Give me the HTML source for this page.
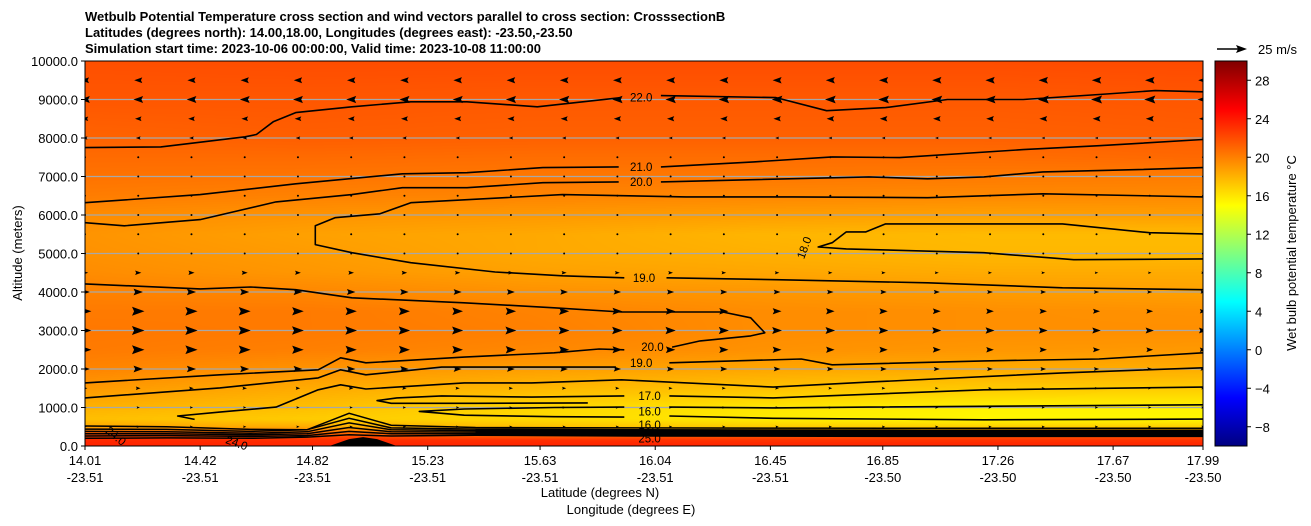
<!DOCTYPE html>
<html><head><meta charset="utf-8">
<style>
html,body{margin:0;padding:0;background:#fff;}
body{width:1311px;height:526px;position:relative;overflow:hidden;font-family:"Liberation Sans","DejaVu Sans",sans-serif;}
#field{position:absolute;left:85px;top:61px;width:1118px;height:385px;}
#ov{position:absolute;left:0;top:0;}
</style></head>
<body>
<canvas id="field" width="1118" height="385"></canvas>
<svg id="ov" width="1311" height="526" xmlns="http://www.w3.org/2000/svg">
<defs>
<linearGradient id="jet" x1="0" y1="1" x2="0" y2="0">
<stop offset="0" stop-color="#000080"/><stop offset="0.125" stop-color="#0000ff"/>
<stop offset="0.375" stop-color="#00ffff"/><stop offset="0.625" stop-color="#ffff00"/>
<stop offset="0.875" stop-color="#ff0000"/><stop offset="1" stop-color="#800000"/>
</linearGradient>
<clipPath id="pc"><rect x="85" y="61" width="1118" height="385"/></clipPath>
</defs>
<g font-weight="bold" font-size="13" fill="#000">
<text x="85" y="21">Wetbulb Potential Temperature cross section and wind vectors parallel to cross section: CrosssectionB</text>
<text x="85" y="37">Latitudes (degrees north): 14.00,18.00, Longitudes (degrees east): -23.50,-23.50</text>
<text x="85" y="53">Simulation start time: 2023-10-06 00:00:00, Valid time: 2023-10-08 11:00:00</text>
</g>
<g id="grid" clip-path="url(#pc)"></g>
<g id="contours" clip-path="url(#pc)"></g>
<g id="quiver" clip-path="url(#pc)"></g>
<g id="clabels" font-size="11.5" fill="#000"></g>
<rect x="85" y="61" width="1118" height="385" fill="none" stroke="#000" stroke-width="1"/>
<g id="yaxis" font-size="13"></g>
<g id="xaxis" font-size="13"></g>
<text x="600" y="497" font-size="13" text-anchor="middle">Latitude (degrees N)</text>
<text x="631" y="514" font-size="13" text-anchor="middle">Longitude (degrees E)</text>
<text transform="translate(22,253) rotate(-90)" font-size="13" text-anchor="middle">Altitude (meters)</text>
<rect x="1215" y="61" width="32" height="385" fill="url(#jet)" stroke="#000" stroke-width="1"/>
<g id="cbaxis" font-size="13"></g>
<text transform="translate(1296,253) rotate(-90)" font-size="13" text-anchor="middle">Wet bulb potential temperature °C</text>
<g>
<line x1="1217" y1="49" x2="1238" y2="49" stroke="#000" stroke-width="1.6"/>
<polygon points="1247,49 1236,45 1238,49 1236,53" fill="#000"/>
<text x="1258" y="54" font-size="13">25 m/s</text>
</g>
</svg>
<script>
// ---- data ----
const levels=[0,150,300,500,700,1000,1500,2000,2500,3000,3500,4000,4500,5000,5500,6000,6500,7000,7500,8000,9000,10000];
const colLats=[14.01,14.8,15.6,16.4,17.2,17.99];
const T0=[23.6,23.6,23.6,23.6,23.6,23.6];
const T150=[23.4,23.2,23.2,23,23,23];
const T300=[22,21.5,20.5,21,21,21];
const T500=[18.5,18.3,17.5,17,16.8,16.8];
const T700=[17.5,17,16.5,15.8,15.3,15.3];
const T1000=[18,17.5,16.6,16,15.5,15.5];
const T1500=[19,18.3,17.8,17.4,17.1,17];
const T2000=[19.8,19.2,18.8,18.5,18.3,18.2];
const T2500=[20.2,20,19.7,19.3,19.1,19];
const T3000=[20.3,20.2,20,19.5,19.4,19.4];
const T3500=[20.2,20.2,19.9,19.5,19.4,19.3];
const T4000=[19.9,19.7,19.3,19.1,18.9,18.7];
const T4500=[19.5,19.1,18.7,18.5,18.3,18.3];
const T5000=[19.3,18.9,18.4,18.1,17.8,17.8];
const T5500=[19.2,18.7,18.4,17.9,17.7,17.7];
const T6000=[19.5,19.2,19,18.8,18.7,18.8];
const T6500=[20.1,19.9,19.8,19.7,19.6,19.6];
const T7000=[20.5,20.4,20.3,20.3,20.2,20.1];
const T7500=[20.8,20.8,20.7,20.7,20.7,20.9];
const T8000=[21.1,21.3,21.2,21.2,21.2,21.3];
const T9000=[21.6,21.6,21.5,21.5,21.5,21.6];
const T10000=[21.9,22,22,22,22,22.1];
const Tgrid=[T0,T150,T300,T500,T700,T1000,T1500,T2000,T2500,T3000,T3500,T4000,T4500,T5000,T5500,T6000,T6500,T7000,T7500,T8000,T9000,T10000];

const windAlts=[500,1000,1500,2000,2500,3000,3500,4000,4500,5000,5500,6000,6500,7000,7500,8000,8500,9000,9500];
const uWest=[2,2,3,6,8,8,8,6,4,1,0.5,0.5,0.5,0.5,-1,-3,-4,-6,-5];
const uEast=[2,2,2,3,4,5,4,3,2,0.5,0.5,0.5,0.5,1,-1,-2,-5,-7,-6];
const windCols=22;

const c22a=[[14.01,7750],[14.28,7770],[14.58,8030],[14.62,8090],[14.68,8420],[14.76,8660],[14.96,8810],[15.17,8940],[15.37,8940],[15.62,8810],[15.92,9050]];
const c22b=[[16.06,9100],[16.47,9050],[16.65,8710],[16.86,8790],[17.08,9000],[17.35,9000],[17.62,9130],[17.82,9230],[17.99,9200]];
const c21a=[[14.01,6320],[14.42,6530],[14.76,6810],[15.14,7070],[15.37,7100],[15.64,7230],[15.91,7250]];
const c21b=[[16.06,7250],[16.39,7380],[16.67,7510],[16.91,7490],[17.35,7700],[17.62,7800],[17.99,7960]];
const c20a=[[14.01,5800],[14.15,5720],[14.42,5880],[14.69,6340],[14.96,6530],[15.14,6710],[15.37,6710],[15.64,6840],[15.91,6860]];
const c20b=[[16.06,6860],[16.80,6990],[17.01,6940],[17.21,6990],[17.42,7120],[17.76,7180],[17.99,7230]];
const c19a=[[17.99,6470],[17.42,6550],[17.01,6450],[16.53,6470],[16.15,6470],[15.71,6530],[15.17,6320],[15.06,6030],[14.90,5930],[14.83,5720],[14.83,5230],[14.96,5020],[15.17,4760],[15.47,4520],[15.71,4420],[15.93,4370]];
const c19b=[[16.08,4370],[16.47,4320],[17.01,4240],[17.49,4110],[17.99,4060]];
const c18=[[17.99,5510],[17.80,5540],[17.49,5770],[17.21,5770],[16.86,5770],[16.79,5560],[16.72,5560],[16.67,5280],[16.62,5170],[16.72,5120],[17.21,5020],[17.53,4840],[17.99,4860]];
const c20la=[[14.01,4210],[14.42,4080],[14.60,4130],[14.76,4060],[14.96,3850],[15.36,3720],[15.68,3590],[15.92,3480],[16.28,3480],[16.38,3330],[16.43,2940],[16.38,2860],[16.20,2730],[16.10,2570]];
const c20lb=[[15.93,2500],[15.84,2520],[15.68,2420],[15.36,2310],[15.01,2160],[14.92,2290],[14.84,1980],[14.49,1850],[14.01,1640]];
const c19la=[[16.09,2160],[16.56,2260],[16.67,2110],[17.21,2210],[17.62,2260],[17.99,2420]];
const c19lb=[[15.90,2050],[15.60,2050],[15.28,2050],[15.01,1850],[14.92,1980],[14.84,1770],[14.49,1510],[14.01,1250]];
const c18l=[[14.40,690],[14.34,780],[14.49,880],[14.69,1010],[14.84,1460],[14.92,1590],[15.01,1480],[15.12,1530],[15.36,1640],[15.60,1640],[15.92,1720],[16.46,1530],[16.80,1660],[17.49,1900],[17.99,2030]];
const c17a=[[17.99,1530],[17.21,1460],[16.46,1250],[16.09,1300]];
const c17b=[[15.93,1300],[15.60,1270],[15.28,1300],[15.12,1250],[15.05,1180],[15.10,1110],[15.40,1110],[15.80,1120]];
const c16a=[[17.99,1070],[16.80,1010],[16.46,990],[16.09,1010]];
const c16b=[[15.93,1010],[15.68,1000],[15.36,960],[15.20,900],[15.36,800],[15.68,760],[15.93,750]];
const c16c=[[16.09,780],[16.46,720],[17.21,680],[17.99,700]];
const contourSet=[c22a,c22b,c21a,c21b,c20a,c20b,c19a,c19b,c18,c20la,c20lb,c19la,c19lb,c18l,c17a,c17b,c16a,c16b,c16c];

const bandLats=[14.01,14.3,14.6,14.8,14.95,15.1,15.4,16,17,17.99];
const b1=[520,500,430,420,850,540,480,470,460,460];
const b2=[440,430,380,420,720,470,440,420,410,410];
const b3=[380,370,330,370,600,420,400,380,370,370];
const b4=[320,320,290,320,480,370,360,340,330,330];
const b5=[260,270,250,270,380,320,320,300,290,290];
const b6=[200,210,200,230,290,260,280,260,250,250];
const bands=[b1,b2,b3,b4,b5,b6];
const moundLats=[14.88,14.95,15.0,15.05,15.12];
const moundAlts=[0,180,230,180,0];

const clabelText=["22.0","21.0","20.0","19.0","18.0","20.0","19.0","17.0","16.0","16.0","25.0","24.0","24.0"];
const clabelLat=[15.99,15.99,15.99,16.0,16.57,16.03,15.99,16.02,16.02,16.02,16.02,14.55,14.12];
const clabelAlt=[9050,7250,6860,4370,5150,2570,2160,1300,900,540,200,80,260];
const clabelRot=[0,0,0,0,-70,0,0,0,0,0,0,20,40];

const xTickLat=[14.01,14.42,14.82,15.23,15.63,16.04,16.45,16.85,17.26,17.67,17.99];
const xTickLon=["-23.51","-23.51","-23.51","-23.51","-23.51","-23.51","-23.51","-23.50","-23.50","-23.50","-23.50"];
const yTicks=[0,1000,2000,3000,4000,5000,6000,7000,8000,9000,10000];
const cbTicks=[-8,-4,0,4,8,12,16,20,24,28];

// ---- scales ----
const X0=85,X1=1203,Y0=446,Y1=61,LAT0=14.01,LAT1=17.99,ALT1=10000,TMIN=-10,TMAX=30;
const sx=l=>X0+(l-LAT0)/(LAT1-LAT0)*(X1-X0);
const sy=a=>Y0-a/ALT1*(Y0-Y1);
const cy=t=>Y0-(t-TMIN)/(TMAX-TMIN)*(Y0-Y1);
function jet(T){const t=Math.max(0,Math.min(1,(T-TMIN)/(TMAX-TMIN)));
 const c=v=>Math.round(255*Math.max(0,Math.min(1,v)));
 return [c(1.5-Math.abs(4*t-3)),c(1.5-Math.abs(4*t-2)),c(1.5-Math.abs(4*t-1))];}
const NS='http://www.w3.org/2000/svg';
function mk(tag,attrs,parent){const e=document.createElementNS(NS,tag);for(const k in attrs)e.setAttribute(k,attrs[k]);parent.appendChild(e);return e;}

// ---- field ----
(function(){
 const cv=document.getElementById('field'),ctx=cv.getContext('2d');
 const W=cv.width,H=cv.height,img=ctx.createImageData(W,H);
 for(let py=0;py<H;py++){
  const alt=(H-py-0.5)/H*ALT1;
  let k=0;while(k<levels.length-2&&levels[k+1]<alt)k++;
  const fa=Math.max(0,Math.min(1,(alt-levels[k])/(levels[k+1]-levels[k])));
  for(let px=0;px<W;px++){
   const lat=LAT0+(px+0.5)/W*(LAT1-LAT0);
   let j=0;while(j<colLats.length-2&&colLats[j+1]<lat)j++;
   const fl=Math.max(0,Math.min(1,(lat-colLats[j])/(colLats[j+1]-colLats[j])));
   const a=Tgrid[k][j]*(1-fl)+Tgrid[k][j+1]*fl,b=Tgrid[k+1][j]*(1-fl)+Tgrid[k+1][j+1]*fl;
   const c=jet(a*(1-fa)+b*fa),i=(py*W+px)*4;
   img.data[i]=c[0];img.data[i+1]=c[1];img.data[i+2]=c[2];img.data[i+3]=255;
  }}
 ctx.putImageData(img,0,0);
})();

// ---- gridlines ----
const gG=document.getElementById('grid');
yTicks.forEach(v=>{if(v===0||v===ALT1)return;
 const l=mk('line',{x1:X0,x2:X1,y1:sy(v),y2:sy(v),stroke:'#a8a8a8','stroke-width':1.2},gG);
 
 });

// ---- contours ----
const gC=document.getElementById('contours');
contourSet.forEach(seg=>{
 const p=mk('polyline',{points:seg.map(q=>sx(q[0]).toFixed(1)+','+sy(q[1]).toFixed(1)).join(' '),fill:'none',stroke:'#000','stroke-width':1.6,'stroke-linejoin':'round'},gC);
 
 });
// dense surface band fill (east part)
(function(){
 const top=[],bot=[];
 for(let i=6;i<bandLats.length;i++){top.push(sx(bandLats[i]).toFixed(1)+','+sy(b2[i]).toFixed(1));}
 for(let i=bandLats.length-1;i>=6;i--){bot.push(sx(bandLats[i]).toFixed(1)+','+sy(b6[i]).toFixed(1));}
 const f=mk('polygon',{points:top.concat(bot).join(' '),fill:'#000'},gC);
 
 
})();
bands.forEach(b=>{
 const p=mk('polyline',{points:b.map((a,i)=>sx(bandLats[i]).toFixed(1)+','+sy(a).toFixed(1)).join(' '),fill:'none',stroke:'#000','stroke-width':1.5},gC);
 
 });
const mound=mk('polygon',{points:moundAlts.map((a,i)=>sx(moundLats[i]).toFixed(1)+','+sy(a).toFixed(1)).join(' '),fill:'#000'},gC);



// ---- contour labels ----
const gL=document.getElementById('clabels');
clabelText.forEach((t,i)=>{
 const x=sx(clabelLat[i]),y=sy(clabelAlt[i]);
 const e=mk('text',{x:0,y:4,'text-anchor':'middle',transform:`translate(${x.toFixed(1)},${y.toFixed(1)}) rotate(${clabelRot[i]})`},gL);
 e.textContent=t;
 
 });

// ---- quiver ----
const gQ=document.getElementById('quiver');
windAlts.forEach((a,r)=>{
 for(let c=0;c<windCols;c++){
  const f=c/(windCols-1),lat=LAT0+f*(LAT1-LAT0);
  const u=uWest[r]*(1-f)+uEast[r]*f;
  const x=sx(lat),y=sy(a),L=Math.abs(u)*1.6,s=Math.sign(u)||1;
  let e;
  if(L<2.5){e=mk('circle',{cx:x,cy:y,r:1,fill:'#000'},gQ);}
  else{const w=Math.max(1.2,L*0.36);
   e=mk('polygon',{points:`${x+s*L/2},${y} ${x-s*L/2},${y-w} ${x-s*L/3},${y} ${x-s*L/2},${y+w}`,fill:'#000'},gQ);}
  
  
 }});

// ---- axes ----
const gY=document.getElementById('yaxis');
yTicks.forEach(v=>{const y=sy(v);
 const t=mk('line',{x1:X0-4,x2:X0,y1:y,y2:y,stroke:'#000'},gY);
 
 
 const e=mk('text',{x:X0-7,y:y+5,'text-anchor':'end'},gY);e.textContent=v.toFixed(1);
 
 });
const gX=document.getElementById('xaxis');
xTickLat.forEach((v,i)=>{const x=sx(v);
 const t=mk('line',{x1:x,x2:x,y1:Y0,y2:Y0+4,stroke:'#000'},gX);
 
 
 const e=mk('text',{x:x,y:465,'text-anchor':'middle'},gX);e.textContent=v.toFixed(2);
 
 
 const e2=mk('text',{x:x,y:482,'text-anchor':'middle'},gX);e2.textContent=xTickLon[i];
 
 });
const gB=document.getElementById('cbaxis');
cbTicks.forEach(v=>{const y=cy(v);
 const t=mk('line',{x1:1247,x2:1251,y1:y,y2:y,stroke:'#000'},gB);
 
 
 const e=mk('text',{x:1255,y:y+5},gB);e.textContent=(v<0?'\u2212'+(-v):String(v));
 
 });
</script>
</body></html>
